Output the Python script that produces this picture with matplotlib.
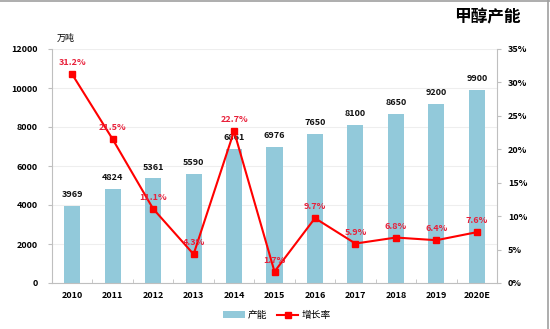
import matplotlib
matplotlib.use("Agg")
import matplotlib.pyplot as plt
from matplotlib.lines import Line2D
import numpy as np

plt.rcParams['font.family'] = ['Noto Sans CJK SC', 'DejaVu Sans']

years = ['2010', '2011', '2012', '2013', '2014', '2015', '2016', '2017', '2018', '2019', '2020E']
capacity = [3969, 4824, 5361, 5590, 6861, 6976, 7650, 8100, 8650, 9200, 9900]
growth = [31.2, 21.5, 11.1, 4.3, 22.7, 1.7, 9.7, 5.9, 6.8, 6.4, 7.6]

bar_color = '#92C9DA'
line_color = '#FF0000'
label_red = '#E8203A'

fig = plt.figure(figsize=(5.5, 3.29), dpi=100)
ax = fig.add_axes([52/550, 1 - 283/329, 445/550, 234/329])
x = np.arange(len(years))
bars = ax.bar(x, capacity, width=0.4, color=bar_color, zorder=2, label='产能')
ax.set_xlim(-0.5, len(years) - 0.5)
ax.set_ylim(0, 12000)
ax.set_yticks(np.arange(0, 12001, 2000))
ax.grid(axis='y', color='#EEEEEE', lw=0.8, zorder=0)
for s in ['top', 'right']:
    ax.spines[s].set_visible(False)
for s in ['left', 'bottom']:
    ax.spines[s].set_color('#BFBFBF')
ax.set_xticks(x)
ax.set_xticklabels(years, fontsize=6.5, fontweight='bold')
ax.tick_params(axis='x', length=0, pad=6)
ax.set_xticks(np.arange(-0.5, len(years), 1), minor=True)
ax.tick_params(axis='x', which='minor', length=3, color='#BFBFBF', direction='in')
ax.tick_params(axis='y', length=3, color='#BFBFBF', labelsize=6.5, pad=7)
for lab in ax.get_yticklabels():
    lab.set_fontweight('bold')
for xi, v in zip(x, capacity):
    ax.annotate(f'{v}', (xi, v), xytext=(0, 5), textcoords='offset points',
                ha='center', va='bottom', fontsize=6.5, fontweight='bold', color='#111111', zorder=5)

ax2 = ax.twinx()
ax2.set_ylim(0, 35)
ax2.set_yticks(np.arange(0, 36, 5))
ax2.set_yticklabels([f'{v}%' for v in range(0, 36, 5)])
for s in ['top', 'left', 'bottom']:
    ax2.spines[s].set_visible(False)
ax2.spines['right'].set_color('#BFBFBF')
ax2.tick_params(axis='y', length=3, color='#BFBFBF', labelsize=6.5, pad=5)
for lab in ax2.get_yticklabels():
    lab.set_fontweight('bold')
ax2.plot(x, growth, color=line_color, lw=1.5, marker='s', markersize=5, zorder=4, label='增长率')
for xi, g in zip(x, growth):
    ax2.annotate(f'{g}%', (xi, g), xytext=(0, 5), textcoords='offset points',
                 ha='center', va='bottom', fontsize=6.5, fontweight='bold', color=label_red, zorder=6)

fig.text(57/550, 1 - 38/329, '万吨', fontsize=6.5, ha='left', va='center')
fig.text(521/550, 1 - 17/329, '甲醇产能', fontsize=12, fontweight='bold', ha='right', va='center')

handles = [bars, Line2D([], [], color=line_color, lw=1.5, marker='s', markersize=4)]
fig.legend(handles, ['产能', '增长率'], loc='center', bbox_to_anchor=(277/550, 1 - 315/329),
           ncol=2, frameon=False, fontsize=7, handlelength=2.2, handletextpad=0.3, columnspacing=1.0)

fig.add_artist(Line2D([0, 1], [0.998, 0.998], transform=fig.transFigure, color='#A0A0A0', lw=1.2))
fig.add_artist(Line2D([0.997, 0.997], [0, 1], transform=fig.transFigure, color='#A0A0A0', lw=1.2))

fig.savefig('out.png', dpi=100)
